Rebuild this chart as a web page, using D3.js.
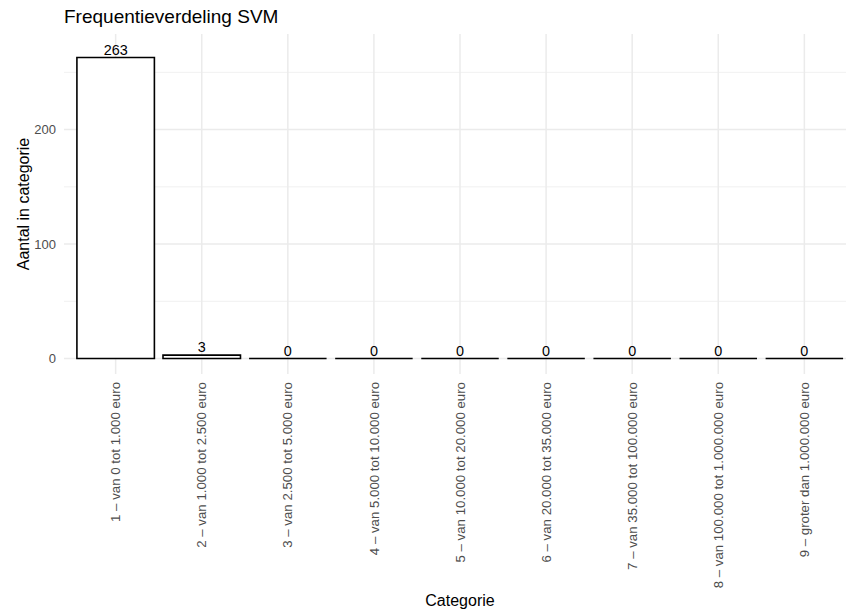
<!DOCTYPE html>
<html>
<head>
<meta charset="utf-8">
<script src="https://cdn.jsdelivr.net/npm/d3@7"></script>
<style>
  html, body { margin: 0; padding: 0; background: #fff; }
  svg { display: block; font-family: "Liberation Sans", Arial, Helvetica, sans-serif; }
</style>
</head>
<body>
<svg id="chart" width="846" height="613"></svg>
<script>
const categories = [
  "1 \u2013 van 0 tot 1.000 euro",
  "2 \u2013 van 1.000 tot 2.500 euro",
  "3 \u2013 van 2.500 tot 5.000 euro",
  "4 \u2013 van 5.000 tot 10.000 euro",
  "5 \u2013 van 10.000 tot 20.000 euro",
  "6 \u2013 van 20.000 tot 35.000 euro",
  "7 \u2013 van 35.000 tot 100.000 euro",
  "8 \u2013 van 100.000 tot 1.000.000 euro",
  "9 \u2013 groter dan 1.000.000 euro"
];
const counts = [263, 3, 0, 0, 0, 0, 0, 0, 0];
const yTicks = [0, 100, 200];
const yMinorTicks = [50, 150, 250];
const labelOffset = 7;
const titleText = "Frequentieverdeling SVM";
const xTitle = "Categorie";
const yTitle = "Aantal in categorie";

const svg = d3.select("#chart");
const panel = { left: 64, right: 856, top: 34, bottom: 374 };

const x = d3.scaleBand()
  .domain(categories)
  .range([panel.left, panel.right])
  .paddingInner(0.1)
  .paddingOuter(0.15);

const yMaxData = d3.max(counts) + labelOffset;
const yExp = yMaxData * 0.05;
const y = d3.scaleLinear()
  .domain([0 - yExp, yMaxData + yExp])
  .range([panel.bottom, panel.top]);

const grid = svg.append("g");
grid.selectAll("line.minor").data(yMinorTicks).enter().append("line")
  .attr("x1", panel.left).attr("x2", panel.right)
  .attr("y1", d => y(d)).attr("y2", d => y(d))
  .attr("stroke", "#ebebeb").attr("stroke-width", 0.75);
grid.selectAll("line.majorY").data(yTicks).enter().append("line")
  .attr("x1", panel.left).attr("x2", panel.right)
  .attr("y1", d => y(d)).attr("y2", d => y(d))
  .attr("stroke", "#ebebeb").attr("stroke-width", 1.5);
grid.selectAll("line.majorX").data(categories).enter().append("line")
  .attr("x1", d => x(d) + x.bandwidth() / 2).attr("x2", d => x(d) + x.bandwidth() / 2)
  .attr("y1", panel.top).attr("y2", panel.bottom)
  .attr("stroke", "#ebebeb").attr("stroke-width", 1.5);

// bars drawn as closed paths so zero-height bars still show their outline
svg.append("g").selectAll("path").data(counts).enter().append("path")
  .attr("d", (d, i) => {
    const x0 = x(categories[i]);
    const w = x.bandwidth();
    const yt = y(d);
    const yb = y(0);
    return `M${x0},${yb}L${x0},${yt}L${x0 + w},${yt}L${x0 + w},${yb}Z`;
  })
  .attr("fill", "#ffffff")
  .attr("stroke", "#000000")
  .attr("stroke-width", 1.6)
  .attr("stroke-linejoin", "miter");

svg.append("g").selectAll("text").data(counts).enter().append("text")
  .attr("x", (d, i) => x(categories[i]) + x.bandwidth() / 2)
  .attr("y", d => y(d + labelOffset))
  .attr("dy", "0.36em")
  .attr("text-anchor", "middle")
  .attr("font-size", "14.4px")
  .attr("fill", "#000")
  .text(d => d);

const yAxis = d3.axisLeft(y).tickValues(yTicks).tickSize(0).tickPadding(8);
const yg = svg.append("g").attr("transform", `translate(${panel.left},0)`).call(yAxis);
yg.select(".domain").remove();
yg.selectAll("text")
  .attr("font-size", "13px")
  .attr("fill", "#4d4d4d")
  .attr("font-family", "'Liberation Sans', Arial, sans-serif");

const xAxis = d3.axisBottom(x).tickSize(0).tickPadding(0);
const xg = svg.append("g").attr("transform", `translate(0,${panel.bottom})`).call(xAxis);
xg.select(".domain").remove();
xg.selectAll("text")
  .attr("font-size", "13.25px")
  .attr("fill", "#4d4d4d")
  .attr("font-family", "'Liberation Sans', Arial, sans-serif")
  .attr("text-anchor", "end")
  .attr("transform", "translate(0,8) rotate(-90)")
  .attr("x", 0)
  .attr("y", 0)
  .attr("dy", "0.35em");

svg.append("text")
  .attr("x", panel.left).attr("y", 22.5)
  .attr("font-size", "19px")
  .attr("fill", "#000")
  .text(titleText);

svg.append("text")
  .attr("x", (panel.left + panel.right) / 2).attr("y", 605.5)
  .attr("text-anchor", "middle")
  .attr("font-size", "16px")
  .attr("fill", "#000")
  .text(xTitle);

svg.append("text")
  .attr("transform", `translate(29,${(panel.top + panel.bottom) / 2}) rotate(-90)`)
  .attr("text-anchor", "middle")
  .attr("font-size", "16px")
  .attr("fill", "#000")
  .text(yTitle);
</script>
</body>
</html>
